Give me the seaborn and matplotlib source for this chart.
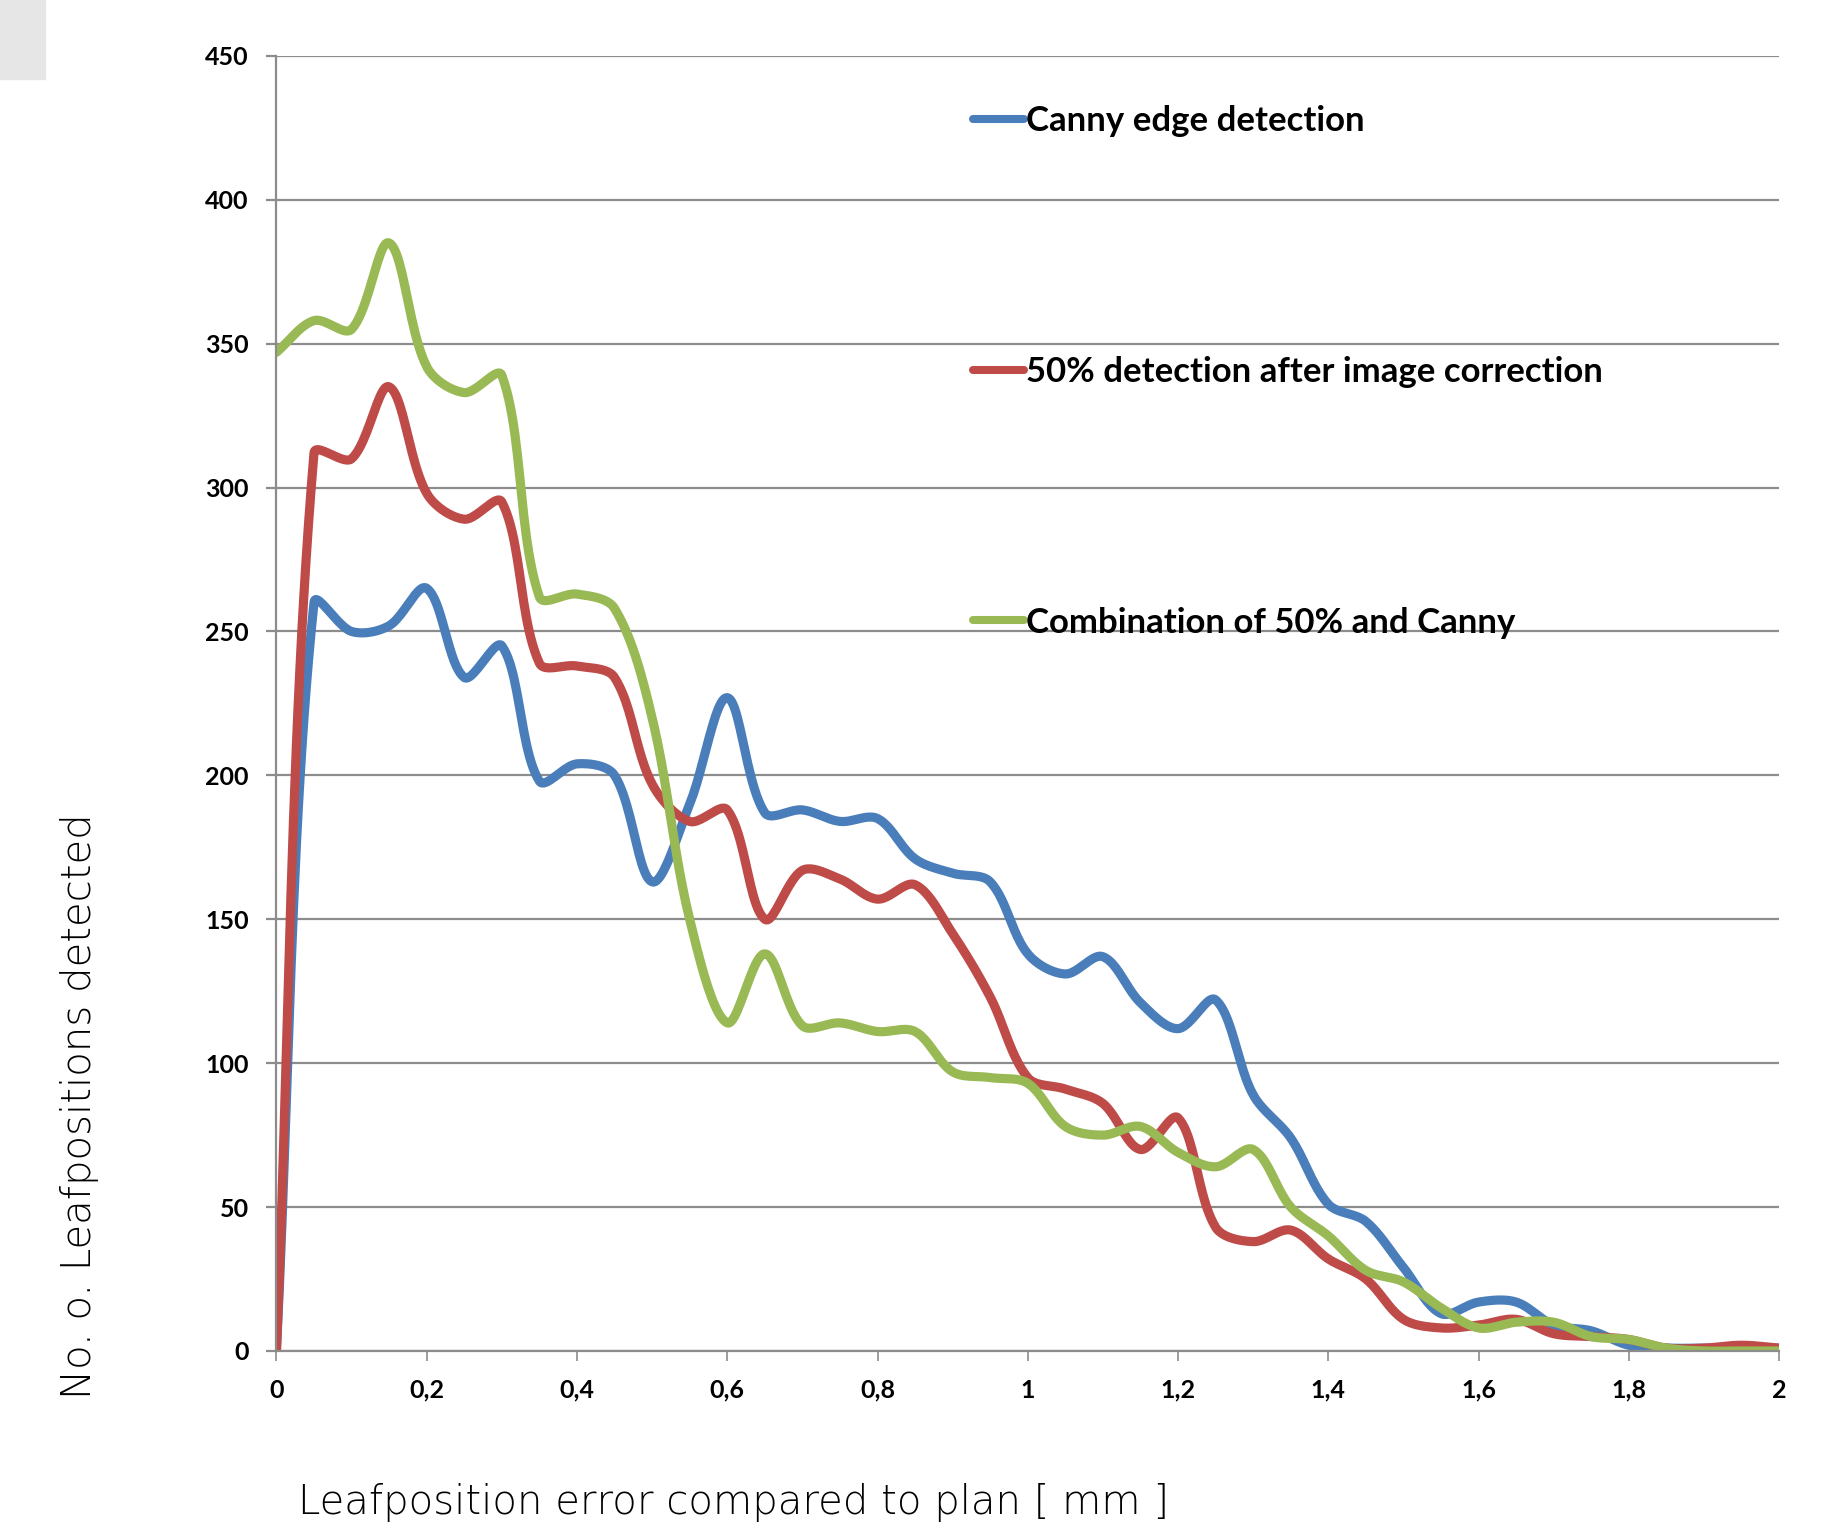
import numpy as np
import pandas as pd
import seaborn as sns
import matplotlib.pyplot as plt
from matplotlib.patches import Rectangle

# leaf position error [mm], one reading every 0.05 mm
x_vals = [round(0.05 * i, 2) for i in range(41)]

canny = [0, 260, 250, 252, 265, 234, 245, 198, 204, 200,
         163, 190, 227, 187, 188, 184, 185, 171, 166, 163,
         138, 131, 137, 121, 112, 122, 89, 74, 51, 45,
         29, 13, 17, 17, 9, 7, 2, 1, 1, 1, 1]
fifty = [0, 312, 310, 335, 298, 289, 295, 239, 238, 234,
         197, 184, 188, 150, 167, 164, 157, 162, 145, 123,
         95, 91, 86, 70, 81, 43, 38, 42, 32, 25,
         11, 8, 9, 11, 6, 5, 4, 1, 1, 2, 1]
combo = [347, 358, 355, 385, 342, 333, 339, 262, 263, 258,
         220, 150, 114, 138, 113, 114, 111, 111, 97, 95,
         93, 78, 75, 78, 69, 64, 70, 50, 40, 28,
         24, 15, 8, 10, 10, 5, 4, 1, 0, 0, 0]

labels = ["Canny edge detection",
          "50% detection after image correction",
          "Combination of 50% and Canny"]
colors = ["#4A7EBB", "#BE4B48", "#98B954"]

y_ticks = list(range(0, 451, 50))
x_ticks = [0, 0.2, 0.4, 0.6, 0.8, 1, 1.2, 1.4, 1.6, 1.8, 2]
x_ticklabels = ["0", "0,2", "0,4", "0,6", "0,8", "1", "1,2", "1,4", "1,6", "1,8", "2"]

# pixels per data unit on screen (used so the smoothing behaves like excel's)
SX, SY = 751.5, 2.878


def smooth(xs, ys, n=24):
    # excel-like smoothed line: bezier arms scaled by neighbouring segment lengths
    p = np.column_stack([np.asarray(xs) * SX, np.asarray(ys) * SY]).astype(float)
    m = len(p)
    fwd = np.zeros_like(p)
    back = np.zeros_like(p)
    for i in range(m):
        a = p[max(i - 1, 0)]
        b = p[min(i + 1, m - 1)]
        d = b - a
        l1 = np.hypot(*(p[i] - a))
        l2 = np.hypot(*(b - p[i]))
        tot = l1 + l2 if l1 + l2 > 0 else 1
        fwd[i] = p[i] + d * l2 / tot / 3
        back[i] = p[i] - d * l1 / tot / 3
    out = []
    t = np.linspace(0, 1, n, endpoint=False)[:, None]
    for i in range(m - 1):
        p1, c1, c2, p2 = p[i], fwd[i], back[i + 1], p[i + 1]
        seg = ((1 - t) ** 3 * p1 + 3 * (1 - t) ** 2 * t * c1
               + 3 * (1 - t) * t ** 2 * c2 + t ** 3 * p2)
        out.append(seg)
    out.append(p[-1][None, :])
    s = np.vstack(out)
    return s[:, 0] / SX, s[:, 1] / SY


rows = []
for lab, ys in zip(labels, [canny, fifty, combo]):
    sx, sy = smooth(x_vals, ys)
    rows.append(pd.DataFrame({"x": sx, "y": sy, "series": lab}))
df = pd.concat(rows, ignore_index=True)

sns.set_theme(style="white")
plt.rcParams['font.family'] = ['Lato', 'DejaVu Sans']
plt.rcParams['text.color'] = 'black'
plt.rcParams['xtick.color'] = 'black'
plt.rcParams['ytick.color'] = 'black'

fig = plt.figure(figsize=(18.21, 15.30), dpi=100)
fig.patches.append(Rectangle((0, 1 - 79 / 1530), 45 / 1821, 79 / 1530,
                             transform=fig.transFigure, color="#e6e6e6", zorder=0))
ax = fig.add_axes([0.1518, 0.117, 0.8252, 0.8465])

sns.lineplot(data=df, x="x", y="y", hue="series", hue_order=labels,
             palette=colors, sort=False, estimator=None, units="series",
             linewidth=6.6, ax=ax)

ax.set_xlim(0, 2)
ax.set_ylim(0, 450)
ax.set_yticks(y_ticks)
ax.set_yticklabels([str(v) for v in y_ticks], fontweight="bold", fontsize=18)
ax.set_xticks(x_ticks)
ax.set_xticklabels(x_ticklabels, fontweight="bold", fontsize=18)
ax.yaxis.grid(True, color="#8c8c8c", linewidth=1.6)
ax.xaxis.grid(False)
for side in ["top", "right"]:
    ax.spines[side].set_visible(False)
for side in ["left", "bottom"]:
    ax.spines[side].set_color("#8c8c8c")
    ax.spines[side].set_linewidth(1.6)
ax.tick_params(axis="y", length=7, width=1.6, color="#8c8c8c", pad=13,
               labelcolor="black")
ax.tick_params(axis="x", length=7, width=1.2, color="#8c8c8c", pad=13,
               direction="out", labelcolor="black")
ax.tick_params(left=True, bottom=True)

ax.set_xlabel("")
ax.set_ylabel("")
fig.text(0.403, 0.018, "Leafposition error compared to plan [ mm ]",
         ha="center", va="center", fontsize=29, family="DejaVu Sans",
         fontweight="light", color="black")
fig.text(0.0434, 0.277, "No. o. Leafpositions detected", rotation=90,
         ha="center", va="center", fontsize=29, family="DejaVu Sans",
         fontweight="light", color="black")

leg = ax.legend(loc="upper left", bbox_to_anchor=(0.4637, 0.962),
                frameon=False, fontsize=25, handlelength=1.45,
                handletextpad=0.08, labelspacing=6.3, borderpad=0,
                borderaxespad=0)
for t in leg.get_texts():
    t.set_fontweight("bold")
    t.set_color("black")
for h in leg.get_lines():
    h.set_linewidth(5.8)
    h.set_solid_capstyle("round")

fig.savefig("out.png", dpi=100)
